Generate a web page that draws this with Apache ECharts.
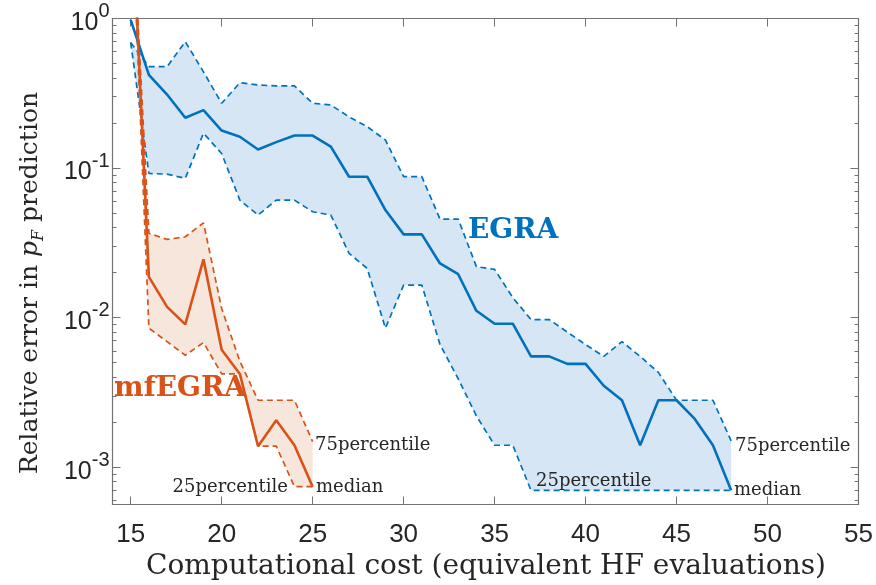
<!DOCTYPE html>
<html>
<head>
<meta charset="utf-8">
<script src="https://cdn.jsdelivr.net/npm/echarts@6/dist/echarts.min.js"></script>
<style>
  html, body { margin: 0; padding: 0; background: #ffffff; }
  #chart { width: 876px; height: 585px; }
</style>
</head>
<body>
<div id="chart"></div>
<script>
// Computational cost (equivalent HF evaluations)
const egraCost = [15, 16, 17, 18, 19, 20, 21, 22, 23, 24, 25, 26, 27, 28, 29, 30, 31,
                  32, 33, 34, 35, 36, 37, 38, 39, 40, 41, 42, 43, 44, 45, 46, 47, 48];
// EGRA relative error: median, 75th and 25th percentile
const egraMedian = [0.98, 0.42, 0.31, 0.217, 0.244, 0.178, 0.162, 0.133, 0.149, 0.165, 0.165,
                    0.139, 0.0875, 0.0875, 0.0524, 0.036, 0.036, 0.023, 0.0195, 0.0111, 0.0091,
                    0.0091, 0.0055, 0.0055, 0.0049, 0.0049, 0.0035, 0.0028, 0.0014, 0.0028,
                    0.0028, 0.0021, 0.0014, 0.0007];
const egraP75 = [0.69, 0.476, 0.476, 0.70, 0.44, 0.271, 0.372, 0.359, 0.354, 0.354, 0.271,
                 0.264, 0.220, 0.189, 0.154, 0.0875, 0.0875, 0.0456, 0.0456, 0.0219, 0.021,
                 0.0136, 0.0097, 0.0097, 0.0080, 0.0066, 0.0055, 0.0069, 0.0055, 0.0043,
                 0.0028, 0.0028, 0.0028, 0.0015];
const egraP25 = [0.69, 0.092, 0.091, 0.0853, 0.171, 0.125, 0.061, 0.0485, 0.061, 0.061, 0.051,
                 0.0485, 0.0269, 0.0213, 0.0085, 0.0165, 0.0165, 0.0066, 0.0039, 0.0022, 0.0014,
                 0.0014, 0.0007, 0.0007, 0.0007, 0.0007, 0.0007, 0.0007, 0.0007, 0.0007,
                 0.0007, 0.0007, 0.0007, 0.0007];

const mfCost = [15, 16, 17, 18, 19, 20, 21, 22, 23, 24, 25];
// mfEGRA relative error: median, 75th and 25th percentile
const mfMedian = [8.5, 0.0187, 0.0118, 0.009, 0.0245, 0.0061, 0.0042, 0.00138, 0.00206, 0.0014, 0.00074];
const mfP75    = [8.5, 0.0366, 0.0333, 0.0347, 0.043, 0.0115, 0.0051, 0.0028, 0.0028, 0.0028, 0.00148];
const mfP25    = [8.5, 0.0085, 0.0069, 0.0056, 0.0068, 0.0042, 0.0042, 0.00138, 0.00138, 0.00074, 0.00074];

// Axis ticks
const xTicks = [15, 20, 25, 30, 35, 40, 45, 50, 55];
const yTicks = [0.001, 0.01, 0.1, 1];
const xRange = [14, 55];
const yRange = [Math.pow(10, -3.25), 1];

const BLUE = '#0072BD', ORANGE = '#D95319';
const BLUE_FILL = '#d7e6f5', ORANGE_FILL = '#f6e6db';
const AXIS_GRAY = '#737373', TEXT = '#262626';

// minor ticks on the log axis (2..9 of each decade)
const yMinor = [];
for (let e = -4; e <= -1; e++) {
  for (let m = 2; m <= 9; m++) {
    const v = m * Math.pow(10, e);
    if (v > yRange[0] && v < yRange[1]) yMinor.push(v);
  }
}

const pairs = (xs, ys) => xs.map((x, i) => [x, ys[i]]);

function bandSeries(xs, lo, hi, fill) {
  return {
    type: 'custom',
    silent: true,
    z: 1,
    data: [[xs[0], hi[0]]],
    renderItem: function (params, api) {
      const pts = [];
      for (let i = 0; i < xs.length; i++) pts.push(api.coord([xs[i], hi[i]]));
      for (let i = xs.length - 1; i >= 0; i--) pts.push(api.coord([xs[i], lo[i]]));
      const cs = params.coordSys;
      return {
        type: 'group',
        clipPath: { type: 'rect', shape: { x: cs.x, y: cs.y, width: cs.width, height: cs.height } },
        children: [{ type: 'polygon', shape: { points: pts }, style: { fill: fill } }]
      };
    }
  };
}

function lineSeries(xs, ys, color, dashed) {
  return {
    type: 'line',
    data: pairs(xs, ys),
    symbol: 'none',
    clip: true,
    silent: true,
    z: dashed ? 3 : 4,
    lineStyle: { color: color, width: dashed ? 1.7 : 2.6, type: dashed ? [6, 4] : 'solid' },
    animation: false
  };
}

const serif = '"DejaVu Serif", "Liberation Serif", serif';
const sans = '"Liberation Sans", Arial, sans-serif';

function xAxisDef(pos, labels) {
  return {
    type: 'value', position: pos, min: xRange[0], max: xRange[1],
    axisLine: { show: true, onZero: false, lineStyle: { color: AXIS_GRAY, width: 1.2 } },
    axisTick: { show: true, inside: true, length: 8, customValues: xTicks, lineStyle: { color: AXIS_GRAY } },
    axisLabel: {
      show: labels, customValues: xTicks, margin: 17,
      fontFamily: sans, fontSize: 26, color: TEXT
    },
    splitLine: { show: false }
  };
}

function yAxisDef(pos, major, labels) {
  return {
    type: 'log', logBase: 10, position: pos, min: yRange[0], max: yRange[1],
    axisLine: { show: major, onZero: false, lineStyle: { color: AXIS_GRAY, width: 1.2 } },
    axisTick: {
      show: true, inside: true, length: major ? 8 : 4,
      customValues: major ? yTicks : yMinor,
      lineStyle: { color: AXIS_GRAY }
    },
    axisLabel: {
      show: labels, customValues: yTicks, margin: 3,
      formatter: function (v) {
        const e = Math.round(Math.log10(v));
        return '{b|10}{s|' + e + '}';
      },
      rich: {
        b: { fontFamily: sans, fontSize: 25, color: TEXT, verticalAlign: 'bottom' },
        s: { fontFamily: sans, fontSize: 20, color: TEXT, verticalAlign: 'bottom', padding: [0, 0, 14, 0] }
      }
    },
    splitLine: { show: false },
    minorTick: { show: false }
  };
}

const chart = echarts.init(document.getElementById('chart'), null, { renderer: 'canvas' });

const option = {
  animation: false,
  backgroundColor: '#ffffff',
  grid: { left: 112.5, top: 18.5, right: 17.5, bottom: 80.5, containLabel: false, outerBoundsMode: 'none' },
  xAxis: [xAxisDef('bottom', true), xAxisDef('top', false)],
  yAxis: [yAxisDef('left', true, true), yAxisDef('left', false, false),
          yAxisDef('right', true, false), yAxisDef('right', false, false)],
  series: [
    bandSeries(egraCost, egraP25, egraP75, BLUE_FILL),
    bandSeries(mfCost, mfP25, mfP75, ORANGE_FILL),
    lineSeries(egraCost, egraP75, BLUE, true),
    lineSeries(egraCost, egraP25, BLUE, true),
    lineSeries(mfCost, mfP75, ORANGE, true),
    lineSeries(mfCost, mfP25, ORANGE, true),
    lineSeries(egraCost, egraMedian, BLUE, false),
    lineSeries(mfCost, mfMedian, ORANGE, false)
  ],
  graphic: [
    // axis titles
    {
      type: 'text', z: 10,
      style: { text: 'Computational cost (equivalent HF evaluations)', x: 486, y: 567,
               font: '28px ' + serif, fill: TEXT, align: 'center', verticalAlign: 'middle' }
    },
    {
      type: 'text', x: 30, y: 283, rotation: Math.PI / 2, z: 10,
      style: {
        text: '{n|Relative error in }{i|p}{sub|F}{n| prediction}',
        align: 'center', verticalAlign: 'middle',
        rich: {
          n: { fontFamily: serif, fontSize: 25, fill: TEXT, verticalAlign: 'bottom' },
          i: { fontFamily: serif, fontStyle: 'italic', fontSize: 25, fill: TEXT, verticalAlign: 'bottom' },
          sub: { fontFamily: serif, fontStyle: 'italic', fontSize: 16, fill: TEXT, verticalAlign: 'bottom', padding: [0, 0, -4, 0] }
        }
      }
    },
    // series names
    { type: 'text', z: 10, style: { text: 'EGRA', x: 468, y: 231, font: 'bold 28px ' + serif, fill: BLUE, align: 'left', verticalAlign: 'middle' } },
    { type: 'text', z: 10, style: { text: 'mfEGRA', x: 246, y: 389, font: 'bold 28px ' + serif, fill: ORANGE, align: 'right', verticalAlign: 'middle' } },
    // percentile annotations
    { type: 'text', z: 10, style: { text: '75percentile', x: 315, y: 445, font: '18px ' + serif, fill: TEXT, align: 'left', verticalAlign: 'middle' } },
    { type: 'text', z: 10, style: { text: '25percentile', x: 288, y: 487, font: '18px ' + serif, fill: TEXT, align: 'right', verticalAlign: 'middle' } },
    { type: 'text', z: 10, style: { text: 'median', x: 316, y: 487, font: '18px ' + serif, fill: TEXT, align: 'left', verticalAlign: 'middle' } },
    { type: 'text', z: 10, style: { text: '75percentile', x: 735, y: 446, font: '18px ' + serif, fill: TEXT, align: 'left', verticalAlign: 'middle' } },
    { type: 'text', z: 10, style: { text: '25percentile', x: 536, y: 481, font: '18px ' + serif, fill: TEXT, align: 'left', verticalAlign: 'middle' } },
    { type: 'text', z: 10, style: { text: 'median', x: 734, y: 490, font: '18px ' + serif, fill: TEXT, align: 'left', verticalAlign: 'middle' } }
  ]
};

chart.setOption(option);
</script>
</body>
</html>
